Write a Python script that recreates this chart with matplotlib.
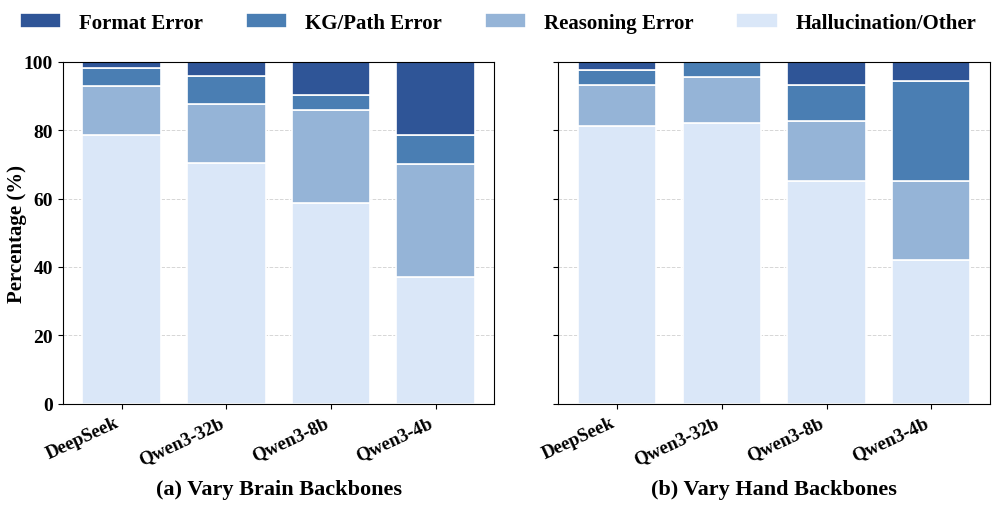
import matplotlib.pyplot as plt
import numpy as np

plt.rcParams['font.family'] = ['Liberation Serif', 'DejaVu Serif']
plt.rcParams['font.weight'] = 'bold'

# Modell dan kategori error
models = ['DeepSeek', 'Qwen3-32b', 'Qwen3-8b', 'Qwen3-4b']
categories = ['Format Error', 'KG/Path Error', 'Reasoning Error', 'Hallucination/Other']
colors = ['#2f5597', '#4a7eb3', '#95b4d7', '#dae7f8']

# (a) Vary Brain Backbones, persentase per kategori
brain_hallucination = [78.6, 70.4, 58.7, 37.1]
brain_reasoning = [14.4, 17.2, 27.3, 33.0]
brain_kg = [5.2, 8.3, 4.3, 8.5]
brain_format = [1.8, 4.1, 9.7, 21.4]

# (b) Vary Hand Backbones
hand_hallucination = [81.2, 82.2, 65.1, 42.1]
hand_reasoning = [12.1, 13.4, 17.7, 22.9]
hand_kg = [4.4, 4.4, 10.3, 29.4]
hand_format = [2.3, 0.0, 6.9, 5.6]


def gambar_panel(ax, layers, title):
    x = np.arange(len(models))
    bottom = np.zeros(len(models))
    # urutan dari bawah: hallucination, reasoning, kg, format
    for vals, col, lab in zip(layers[::-1], colors[::-1], categories[::-1]):
        ax.bar(x, vals, 0.75, bottom=bottom, color=col, edgecolor='white',
               linewidth=1.2, label=lab, zorder=2)
        bottom += np.array(vals)
    ax.set_ylim(0, 100)
    ax.set_yticks([0, 20, 40, 60, 80, 100])
    ax.set_xticks(x)
    ax.set_xticklabels(models, rotation=25, ha='right',
                       fontsize=13.5, fontweight='bold')
    ax.tick_params(axis='y', labelsize=14)
    ax.grid(axis='y', linestyle='--', color='#cccccc', linewidth=0.7, alpha=0.8, zorder=0)
    ax.set_xlabel(title, fontsize=16, fontweight='bold', labelpad=8)


fig, (ax1, ax2) = plt.subplots(1, 2, figsize=(9.96, 5.06), dpi=100, sharey=True)
fig.subplots_adjust(left=0.063, right=0.994, top=0.876, bottom=0.2, wspace=0.148)

gambar_panel(ax1, [brain_format, brain_kg, brain_reasoning, brain_hallucination],
             '(a) Vary Brain Backbones')
gambar_panel(ax2, [hand_format, hand_kg, hand_reasoning, hand_hallucination],
             '(b) Vary Hand Backbones')
ax1.set_ylabel('Percentage (%)', fontsize=15, fontweight='bold')
ax1.yaxis.set_label_coords(-0.082, 0.5)

handles, labels = ax1.get_legend_handles_labels()
fig.legend(handles[::-1], labels[::-1], loc='upper center', ncol=4,
           bbox_to_anchor=(0.5, 1.01), frameon=False, fontsize=15,
           handlelength=2.0, handleheight=0.7, handletextpad=0.85,
           columnspacing=2.05)

plt.savefig('out.png', dpi=100)
